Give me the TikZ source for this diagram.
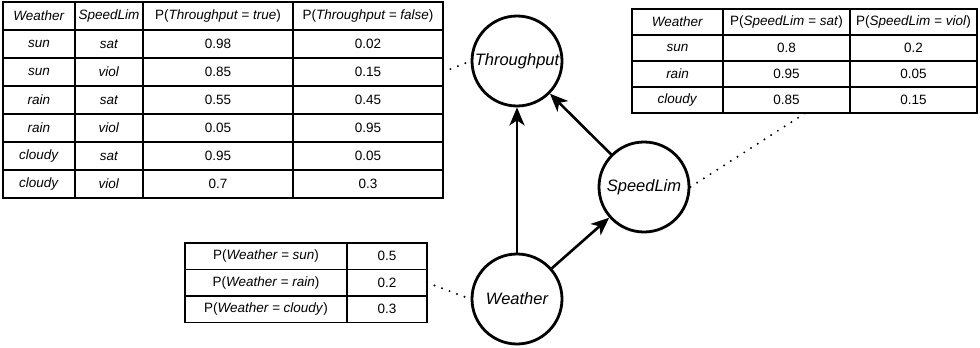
\documentclass[tikz,border=0pt]{standalone}
\usepackage{fontspec}
\setmainfont{Liberation Sans}
\usetikzlibrary{arrows.meta}

\tikzset{
  cell/.style={draw, line width=1.4pt, inner sep=0pt, outer sep=0pt,
    font=\fontsize{13.5}{16}\selectfont},
  tc1/.style={cell, minimum width=72pt, minimum height=28pt},
  tc2/.style={cell, minimum width=68pt, minimum height=28pt},
  tc3/.style={cell, minimum width=150pt, minimum height=28pt},
  sc1/.style={cell, minimum width=91pt, minimum height=26pt},
  sc2/.style={cell, minimum width=127pt, minimum height=26pt},
  wc1/.style={cell, minimum width=162pt, minimum height=26.5pt},
  wc2/.style={cell, minimum width=80pt, minimum height=26.5pt},
  var/.style={circle, draw, line width=2.8pt, minimum size=90pt, inner sep=0pt,
    font=\fontsize{16.5}{20}\selectfont\itshape},
  dep/.style={line width=2.6pt, -{Stealth[length=18pt, width=15pt, inset=5pt]}},
  link/.style={line width=2.2pt, line cap=round, dash pattern=on 0pt off 8pt},
}

\begin{document}
\begin{tikzpicture}[x=1pt, y=-1pt]
\useasboundingbox (0,0) rectangle (980,348);

% table for Throughput
\node[tc1] (t11) at (39,16)  {\textit{Weather}};
\node[tc2] (t12) at (109,16) {\textit{SpeedLim}};
\node[tc3] (t13) at (218,16) {P(\textit{Throughput = true})};
\node[tc3] (t14) at (368,16) {P(\textit{Throughput = false})};

\node[tc1] (t21) at (39,44)  {\textit{sun}};
\node[tc2] (t22) at (109,44) {\textit{sat}};
\node[tc3] (t23) at (218,44) {0.98};
\node[tc3] (t24) at (368,44) {0.02};

\node[tc1] (t31) at (39,72)  {\textit{sun}};
\node[tc2] (t32) at (109,72) {\textit{viol}};
\node[tc3] (t33) at (218,72) {0.85};
\node[tc3] (t34) at (368,72) {0.15};

\node[tc1] (t41) at (39,100)  {\textit{rain}};
\node[tc2] (t42) at (109,100) {\textit{sat}};
\node[tc3] (t43) at (218,100) {0.55};
\node[tc3] (t44) at (368,100) {0.45};

\node[tc1] (t51) at (39,128)  {\textit{rain}};
\node[tc2] (t52) at (109,128) {\textit{viol}};
\node[tc3] (t53) at (218,128) {0.05};
\node[tc3] (t54) at (368,128) {0.95};

\node[tc1] (t61) at (39,156)  {\textit{cloudy}};
\node[tc2] (t62) at (109,156) {\textit{sat}};
\node[tc3] (t63) at (218,156) {0.95};
\node[tc3] (t64) at (368,156) {0.05};

\node[tc1] (t71) at (39,184)  {\textit{cloudy}};
\node[tc2] (t72) at (109,184) {\textit{viol}};
\node[tc3] (t73) at (218,184) {0.7};
\node[tc3] (t74) at (368,184) {0.3};

% table for SpeedLim
\node[sc1] (s11) at (677.5,22) {\textit{Weather}};
\node[sc2] (s12) at (786.5,22) {P(\textit{SpeedLim = sat})};
\node[sc2] (s13) at (913.5,22) {P(\textit{SpeedLim = viol})};

\node[sc1] (s21) at (677.5,48) {\textit{sun}};
\node[sc2] (s22) at (786.5,48) {0.8};
\node[sc2] (s23) at (913.5,48) {0.2};

\node[sc1] (s31) at (677.5,74) {\textit{rain}};
\node[sc2] (s32) at (786.5,74) {0.95};
\node[sc2] (s33) at (913.5,74) {0.05};

\node[sc1] (s41) at (677.5,100) {\textit{cloudy}};
\node[sc2] (s42) at (786.5,100) {0.85};
\node[sc2] (s43) at (913.5,100) {0.15};

% table for Weather
\node[wc1] (w11) at (266,256.25) {P(\textit{Weather = sun})};
\node[wc2] (w12) at (387,256.25) {0.5};
\node[wc1] (w21) at (266,282.75) {P(\textit{Weather = rain})};
\node[wc2] (w22) at (387,282.75) {0.2};
\node[wc1] (w31) at (266,309.25) {P(\textit{Weather = cloudy})};
\node[wc2] (w32) at (387,309.25) {0.3};

% the network
\node[var] (throughput) at (517,61)  {Throughput};
\node[var] (speedlim)   at (644,187) {SpeedLim};
\node[var] (weather)    at (517,299) {Weather};

\draw[dep] (weather) -- (throughput);
\draw[dep] (weather) -- (speedlim);
\draw[dep] (speedlim) -- (throughput);

% tables to nodes
\draw[link] (t34.east) -- (throughput.west);
\draw[link] (speedlim.east) -- ([xshift=19pt]s42.south);
\draw[link] (w22.east) -- (weather.west);

\end{tikzpicture}
\end{document}
